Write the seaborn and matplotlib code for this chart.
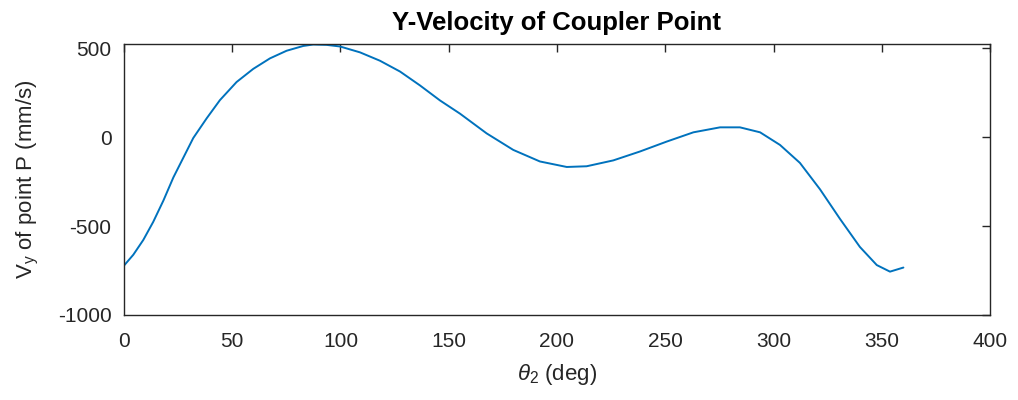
import numpy as np
import pandas as pd
import matplotlib
matplotlib.use('Agg')
import matplotlib.pyplot as plt
import seaborn as sns

# crank angle (deg) and y-velocity of coupler point (mm/s)
theta2 = [0, 4.3, 8.9, 13.5, 18.2, 22.8, 27.4, 32, 38.2, 44.3, 52, 59.7, 67.4,
          75.1, 82.8, 87.4, 93.6, 99.8, 109, 118.2, 127.5, 136.7, 146, 155.2,
          167.5, 179.8, 192.1, 204.5, 213.7, 226, 238.3, 250.7, 263, 275.3,
          284.5, 293.8, 303, 312.2, 321.5, 330.7, 339.9, 347.7, 353.8, 360]
vy = [-722, -661, -578, -476, -356, -226, -115, -4, 107, 209, 311, 385, 444,
      487, 514, 522, 520, 511, 478, 431, 370, 292, 207, 133,
      22, -71, -136, -167, -163, -130, -80, -24, 28, 56,
      56, 28, -43, -144, -293, -459, -617, -719, -756, -733]

x_ticks = [0, 50, 100, 150, 200, 250, 300, 350, 400]
y_ticks = [-1000, -500, 0, 500]

df = pd.DataFrame({'theta2': theta2, 'vy': vy})

sns.set_style('white')
plt.rcParams['font.family'] = ['Liberation Sans', 'DejaVu Sans']
plt.rcParams['mathtext.fontset'] = 'custom'
plt.rcParams['mathtext.rm'] = 'Liberation Sans'
plt.rcParams['mathtext.it'] = 'Liberation Sans:italic'
plt.rcParams['axes.unicode_minus'] = False

fig = plt.figure(figsize=(10.18, 4.0), dpi=100)
ax = fig.add_axes([0.1218, 0.2125, 0.8507, 0.6775])

sns.lineplot(data=df, x='theta2', y='vy', color='#0072BD', linewidth=1.4, ax=ax)

ax.set_xlim(0, 400)
ax.set_ylim(-1000, 525)
ax.set_xticks(x_ticks)
ax.set_yticks(y_ticks)

dark = '#262626'
for s in ax.spines.values():
    s.set_visible(True)
    s.set_color(dark)
    s.set_linewidth(1.0)
ax.tick_params(direction='in', length=6, width=1.0, color=dark, labelcolor=dark,
               labelsize=15, top=True, right=True)
ax.tick_params(axis='x', pad=12)
ax.tick_params(axis='y', pad=9)

ax.set_title('Y-Velocity of Coupler Point', fontsize=18.5, fontweight='bold', color='#000000', pad=10)
ax.set_xlabel(r'$\theta_2$ (deg)', fontsize=16, color=dark, labelpad=8)
ax.set_ylabel(r'V$_\mathrm{y}$ of point P (mm/s)', fontsize=16, color=dark, labelpad=12)

fig.savefig('out.png', dpi=100)
